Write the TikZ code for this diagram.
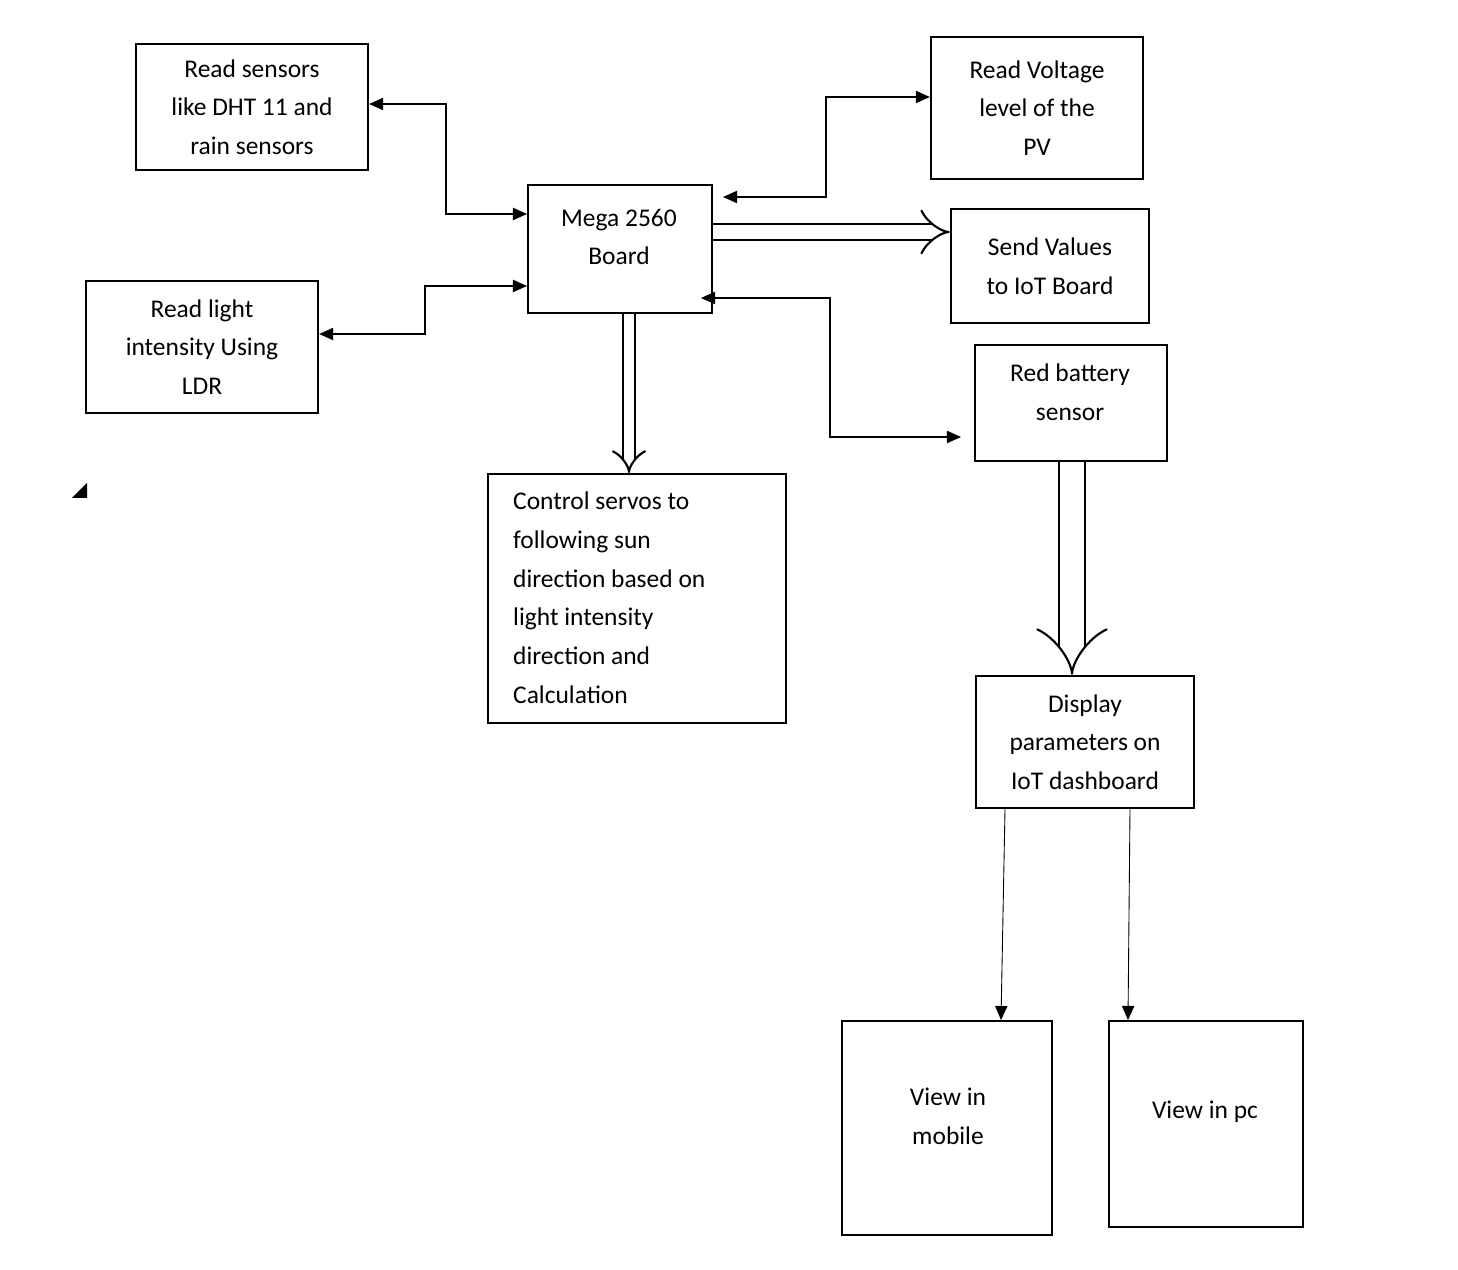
\documentclass[tikz,border=0pt]{standalone}
\usepackage{fontspec}
\setmainfont{Carlito}
\usetikzlibrary{arrows.meta}
\begin{document}
\begin{tikzpicture}[x=0.02cm, y=-0.02cm,
    blk/.style={draw, line width=1.3pt, align=center, inner sep=0pt,
      font=\fontsize{14.5}{22}\selectfont},
    tip/.style={-{Triangle[length=8pt,width=7pt]}},
    both/.style={{Triangle[length=8pt,width=7pt]}-{Triangle[length=8pt,width=7pt]}, line width=0.6pt},
    hollow/.style={line width=1.2pt, double distance=#1, -{Implies}}]
    \useasboundingbox (0,0) rectangle (1458,1270);

    % boxes
    \node[blk, minimum width=232*0.02cm, minimum height=126*0.02cm] (sens) at (252,107) {Read sensors\\like DHT 11 and\\rain sensors};
    \node[blk, minimum width=184*0.02cm, minimum height=128*0.02cm, anchor=north west] (mega) at (527,184) {};
    \node[font=\fontsize{14.5}{22}\selectfont, align=center] at (619,237) {Mega 2560\\Board};
    \node[blk, minimum width=212*0.02cm, minimum height=142*0.02cm] (volt) at (1037,108) {Read Voltage\\level of the\\PV};
    \node[blk, minimum width=198*0.02cm, minimum height=114*0.02cm] (send) at (1050,266) {Send Values\\to IoT Board};
    \node[blk, minimum width=232*0.02cm, minimum height=132*0.02cm] (ldr) at (202,347) {Read light\\intensity Using\\LDR};
    \node[blk, minimum width=192*0.02cm, minimum height=116*0.02cm, anchor=north west] (batt) at (974,344) {};
    \node[font=\fontsize{14.5}{22}\selectfont, align=center] at (1070,392) {Red battery\\sensor};
    \node[blk, minimum width=298*0.02cm, minimum height=249*0.02cm, anchor=north west] (servo) at (487,473) {};
    \node[font=\fontsize{14.5}{22}\selectfont, align=left, anchor=north west] at (507,486) {Control servos to\\following sun\\direction based on\\light intensity\\direction and\\Calculation};
    \node[blk, minimum width=218*0.02cm, minimum height=132*0.02cm] (disp) at (1085,742) {Display\\parameters on\\IoT dashboard};
    \node[blk, minimum width=210*0.02cm, minimum height=214*0.02cm, anchor=north west] (mob) at (841,1020) {};
    \node[font=\fontsize{14.5}{22}\selectfont, align=center] at (948,1116) {View in\\mobile};
    \node[blk, minimum width=194*0.02cm, minimum height=206*0.02cm, anchor=north west] (pc) at (1108,1020) {};
    \node[font=\fontsize{14.5}{22}\selectfont] at (1205,1112) {View in pc};

    % thin connectors
    \draw[both] (sens.east |- 0,104) -- (446,104) -- (446,214) -- (mega.west |- 0,214);
    \draw[both] (723,197) -- (826,197) -- (826,97) -- (volt.west |- 0,97);
    \draw[both] (ldr.east |- 0,334) -- (425,334) -- (425,286) -- (mega.west |- 0,286);
    \draw[both] (701,298) -- (830,298) -- (830,437) -- (961,437);
    \draw[tip, line width=0.5pt] (disp.south -| 1005,0) -- (mob.north -| 1001,0);
    \draw[tip, line width=0.5pt] (disp.south -| 1130,0) -- (pc.north -| 1128,0);

    % hollow arrows
    \draw[hollow=14*0.02cm] (mega.east |- 0,232) -- (send.west |- 0,232);
    \draw[hollow=10*0.02cm] (mega.south -| 629,0) -- (servo.north -| 629,0);
    \draw[hollow=24*0.02cm] (batt.south -| 1072,0) -- (disp.north -| 1072,0);

    % stray mark
    \fill (72,498) -- (87,483) -- (87,498) -- cycle;
\end{tikzpicture}
\end{document}
